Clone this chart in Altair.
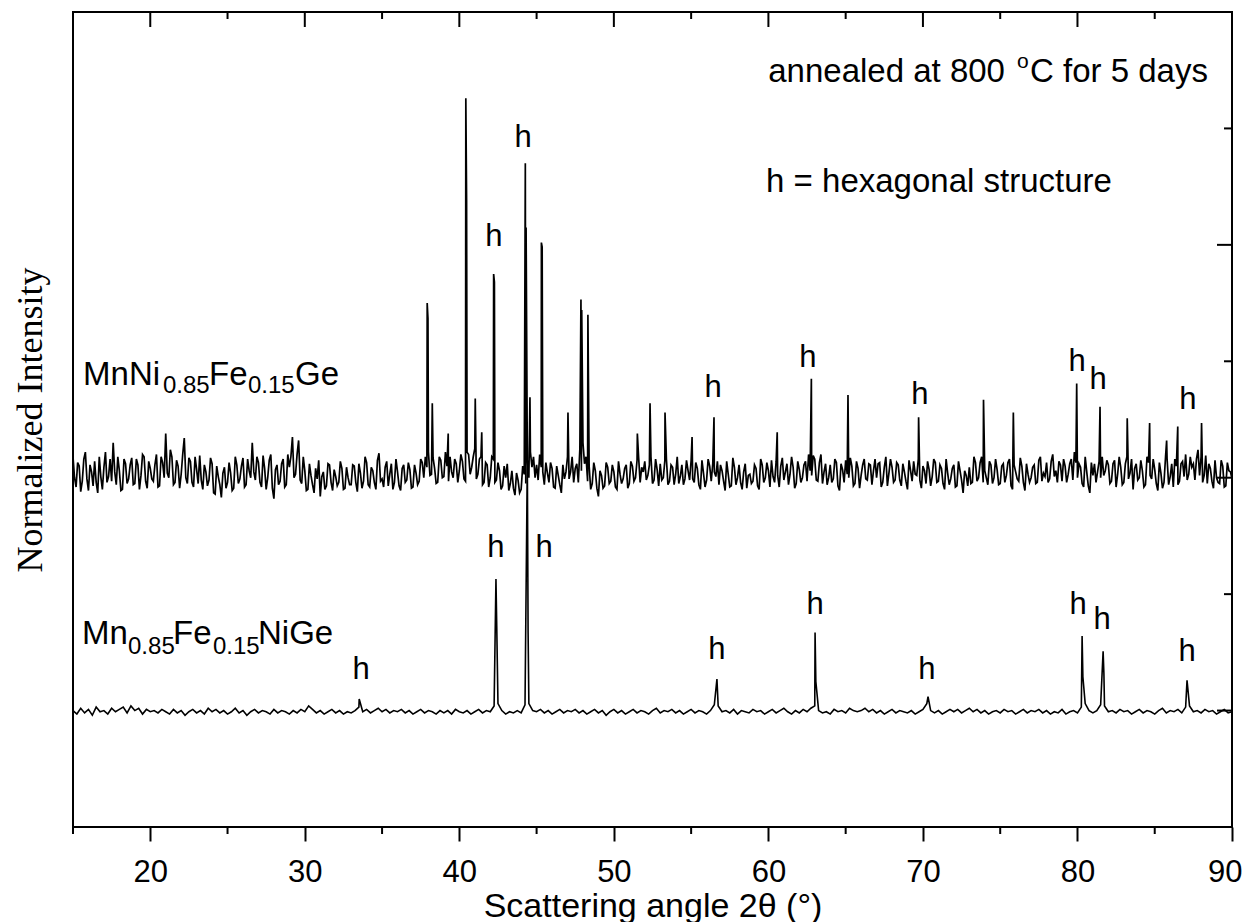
import altair as alt
import numpy as np
import pandas as pd

W, H = 1159, 815

x_domain = [15, 90]
y_domain = [0, 700]
x_major = [20, 30, 40, 50, 60, 70, 80, 90]
x_minor = [15, 25, 35, 45, 55, 65, 75, 85]
y_major = [100, 300, 500]
y_minor = [200, 400, 600]

# ---- MnNi0.85Fe0.15Ge (upper, noisy trace) : readings every 0.2 deg from 15.0 ----
top_start, top_step = 15.0, 0.2
top_noise = [
    318, 292, 310, 297, 322, 289, 305, 314, 287, 301,
    309, 296, 316, 330, 294, 306, 290, 312, 299, 317,
    295, 311, 302, 318, 291, 308, 297, 320, 293, 313,
    338, 300, 318, 296, 310, 303, 334, 295, 314, 292,
    307, 319, 290, 305, 298, 312, 286, 301, 283, 309,
    296, 304, 291, 311, 299, 317, 294, 306, 330, 298,
    313, 292, 308, 300, 320, 282, 311, 297, 316, 294,
    309, 335, 303, 332, 295, 306, 290, 302, 287, 299,
    284, 305, 293, 311, 289, 301, 296, 308, 291, 300,
    294, 310, 288, 304, 297, 313, 292, 306, 290, 321,
    299, 309, 293, 312, 296, 305, 289, 311, 298, 307,
    292, 304, 297, 313, 318, 322, 303, 308, 296, 315,
    301, 310, 318, 300, 312, 306, 314, 297, 320, 309,
    325, 303, 318, 296, 311, 300, 316, 298, 306, 293,
    300, 289, 306, 285, 298, 290, 303, 315, 322, 318,
    311, 320, 305, 313, 296, 308, 291, 302, 287, 299,
    318, 305, 296, 312, 325, 330, 318, 310, 295, 306,
    284, 302, 293, 309, 297, 305, 290, 303, 299, 311,
    295, 310, 300, 318, 309, 314, 302, 318, 298, 307,
    312, 300, 316, 297, 309, 303, 295, 311, 299, 306,
    315, 296, 308, 290, 304, 298, 310, 312, 301, 294,
    306, 289, 303, 293, 309, 300, 296, 305, 291, 303,
    297, 308, 290, 311, 300, 306, 315, 296, 302, 310,
    298, 312, 303, 309, 295, 307, 300, 314, 320, 302,
    316, 297, 320, 305, 294, 311, 299, 313, 289, 307,
    315, 300, 310, 295, 308, 302, 316, 298, 311, 306,
    300, 313, 296, 318, 304, 309, 298, 311, 293, 305,
    290, 306, 314, 302, 298, 310, 295, 307, 301, 313,
    297, 308, 290, 304, 299, 311, 293, 306, 287, 302,
    309, 296, 313, 300, 318, 306, 294, 311, 300, 307,
    295, 312, 302, 316, 290, 305, 297, 310, 289, 303,
    300, 311, 296, 318, 304, 313, 299, 320, 306, 314,
    297, 310, 303, 316, 322, 300, 309, 292, 305, 287,
    302, 296, 314, 318, 306, 311, 297, 315, 303, 309,
    296, 318, 304, 290, 312, 300, 306, 294, 313, 299,
    307, 289, 304, 296, 316, 301, 292, 310, 297, 314,
    320, 303, 309, 298, 324, 318, 302, 295, 308, 291,
    300, 295, 310, 293, 306, 299,
]
# readings in between, every 0.2 deg from 15.1
top_start2 = 15.1
top_noise2 = [
    300, 313, 288, 316, 299, 311, 293, 296, 318, 290,
    322, 301, 297, 305, 318, 289, 316, 295, 311, 294,
    316, 290, 320, 297, 314, 299, 311, 292, 318, 300,
    304, 324, 294, 315, 291, 320, 300, 317, 296, 318,
    295, 298, 311, 293, 317, 287, 310, 294, 304, 291,
    313, 289, 318, 295, 310, 292, 316, 300, 305, 318,
    296, 319, 290, 315, 291, 307, 294, 312, 292, 320,
    318, 300, 320, 298, 318, 289, 312, 294, 308, 315,
    301, 290, 312, 296, 307, 293, 314, 290, 309, 294,
    311, 296, 312, 291, 318, 294, 309, 296, 315, 297,
    292, 314, 303, 290, 316, 293, 308, 296, 313, 291,
    311, 294, 316, 300, 309, 302, 317, 295, 318, 300,
    322, 297, 305, 316, 296, 320, 299, 322, 303, 318,
    299, 316, 294, 313, 292, 318, 296, 313, 290, 310,
    312, 295, 291, 304, 287, 310, 295, 300, 309, 300,
    298, 309, 294, 304, 313, 292, 310, 294, 311, 305,
    299, 318, 308, 296, 306, 312, 297, 290, 313, 291,
    306, 291, 313, 295, 311, 292, 314, 295, 308, 291,
    314, 297, 315, 296, 305, 298, 311, 295, 316, 293,
    298, 315, 294, 311, 294, 318, 301, 294, 315, 298,
    299, 313, 294, 315, 292, 316, 297, 305, 314, 311,
    297, 314, 292, 317, 294, 311, 290, 312, 302, 295,
    311, 293, 316, 296, 313, 292, 301, 314, 292, 317,
    305, 294, 318, 291, 314, 296, 311, 297, 306, 319,
    298, 313, 295, 312, 300, 296, 316, 293, 312, 296,
    303, 317, 293, 314, 291, 311, 299, 312, 294, 316,
    312, 292, 309, 293, 316, 296, 313, 298, 312, 297,
    315, 297, 303, 316, 291, 306, 314, 293, 316, 296,
    311, 295, 316, 294, 308, 292, 314, 298, 306, 293,
    295, 318, 297, 313, 296, 300, 314, 295, 316, 294,
    310, 296, 313, 293, 311, 299, 317, 296, 312, 296,
    309, 295, 315, 297, 301, 296, 314, 301, 296, 311,
    316, 296, 312, 298, 313, 312, 295, 318, 293, 313,
    312, 305, 300, 302, 315, 295, 312, 292, 318, 294,
    312, 299, 316, 308, 298, 315, 292, 318, 302, 316,
    295, 313, 291, 318, 294, 312, 316, 294, 312, 301,
    298, 318, 312, 316, 302, 296, 319, 312, 297, 315,
    296, 315, 292, 313, 305,
]
top_peak_x = [37.92, 38.25, 39.28, 40.42, 41.03, 41.45, 42.22, 44.27, 44.57, 45.31,
              47.03, 47.87, 48.32, 51.52, 52.34, 53.31, 55.06, 56.48, 60.57, 62.78,
              65.15, 69.72, 73.92, 75.85, 79.95, 81.46, 83.22, 84.67, 85.77, 86.49, 88.03]
top_peak_y = [450, 364, 338, 626, 368, 339, 475, 570, 369, 502,
              356, 453, 440, 338, 364, 356, 335, 352, 339, 385,
              371, 352, 367, 356, 381, 361, 351, 347, 332, 344, 347]
top_sh_x = [37.97, 40.47, 42.27, 44.32, 45.36, 47.92]
top_sh_y = [437, 538, 468, 515, 498, 444]

# ---- Mn0.85Fe0.15NiGe (lower, clean trace) : readings every 0.25 deg from 15 ----
bot_start, bot_step = 15.0, 0.25
bot_noise = [
    100, 97, 102, 98, 101, 96, 103, 99, 100, 97, 102, 99,
    101, 103, 98, 104, 100, 102, 97, 101, 99, 100, 98, 101,
    99, 97, 101, 98, 100, 96, 99, 101, 98, 100, 97, 102,
    99, 101, 98, 100, 97, 99, 102, 98, 100, 96, 99, 101,
    98, 100, 99, 97, 101, 98, 100, 99, 97, 100, 98, 101,
    99, 104, 101, 98, 100, 97, 99, 101, 98, 100, 97, 99,
    98, 100, 103, 99, 101, 98, 100, 102, 99, 101, 98, 100,
    99, 101, 98, 100, 97, 99, 101, 98, 100, 99, 97, 100,
    98, 100, 97, 101, 99, 98, 100, 97, 99, 101, 98, 100,
    99, 104, 106, 100, 97, 99, 98, 100, 98, 105, 106, 100,
    99, 101, 98, 100, 97, 99, 101, 98, 100, 99, 101, 98,
    100, 97, 99, 101, 98, 100, 96, 99, 101, 98, 100, 97,
    99, 101, 98, 100, 99, 97, 100, 102, 98, 100, 99, 101,
    98, 100, 97, 99, 101, 98, 100, 99, 97, 100, 105, 104,
    99, 100, 98, 101, 97, 100, 99, 98, 101, 99, 100, 97,
    99, 101, 98, 100, 102, 99, 97, 100, 98, 101, 99, 102,
    104, 100, 98, 99, 97, 101, 99, 100, 98, 102, 100, 99,
    100, 102, 99, 101, 98, 100, 97, 99, 101, 98, 100, 99,
    98, 100, 97, 99, 101, 106, 100, 98, 100, 97, 99, 101,
    99, 101, 98, 100, 102, 99, 101, 98, 100, 97, 99, 100,
    98, 101, 99, 100, 97, 99, 101, 98, 100, 99, 101, 98,
    100, 97, 99, 98, 101, 97, 99, 100, 98, 103, 106, 100,
    98, 100, 105, 104, 99, 100, 98, 101, 99, 100, 97, 99,
    101, 98, 100, 99, 97, 100, 102, 98, 100, 99, 101, 98,
    103, 104, 99, 100, 98, 101, 99, 100, 97, 99, 101, 98,
    99,
]
bot_peak_x = [33.52, 42.37, 44.40, 56.67, 63.02, 70.33, 80.30, 81.66, 87.09]
bot_peak_y = [110, 213, 315, 127, 167, 112, 164, 151, 126]
bot_sh_x = [42.42, 44.45, 63.07, 80.35, 81.71]
bot_sh_y = [173, 167, 125, 129, 132]

# ---- "h" peak labels ----
h_x = [42.24, 44.12, 56.42, 62.56, 69.81, 79.97, 81.33, 87.15,
       33.64, 42.37, 45.48, 56.67, 63.02, 70.26, 80.04, 81.59, 87.09]
h_y = [507, 592, 377, 403, 371, 399, 384, 367,
       135, 240, 240, 152, 191, 135, 191, 178, 150]

# ---- annotation texts (left aligned pieces, with sub/superscripts) ----
note_text = ["MnNi", "0.85", "Fe", "0.15", "Ge",
             "Mn", "0.85", "Fe", "0.15", "NiGe",
             "o", "C for 5 days", "h = hexagonal structure"]
note_x = [15.65, 20.82, 23.80, 26.32, 29.37,
          15.58, 18.56, 21.47, 24.06, 26.97,
          76.09, 76.93, 59.85]
note_y = [380, 373, 380, 373, 380,
          157, 149, 157, 149, 157,
          652, 640, 545]
note_size = [33, 24, 33, 24, 33,
             33, 24, 33, 24, 33,
             21, 33, 33]
right_text = ["annealed at 800"]
right_x = [75.31]
right_y = [640]

# ---------------- build tables ----------------
top_x = np.round(top_start + top_step * np.arange(len(top_noise)), 3)
top_x2 = np.round(top_start2 + top_step * np.arange(len(top_noise2)), 3)
top_df = pd.concat([
    pd.DataFrame({"x": top_x, "y": top_noise}),
    pd.DataFrame({"x": top_x2, "y": top_noise2}),
    pd.DataFrame({"x": top_peak_x, "y": top_peak_y}),
    pd.DataFrame({"x": top_sh_x, "y": top_sh_y}),
], ignore_index=True)

bot_x = np.round(bot_start + bot_step * np.arange(len(bot_noise)), 3)
bot_df = pd.concat([
    pd.DataFrame({"x": bot_x, "y": bot_noise}),
    pd.DataFrame({"x": bot_peak_x, "y": bot_peak_y}),
    pd.DataFrame({"x": bot_sh_x, "y": bot_sh_y}),
], ignore_index=True)

h_df = pd.DataFrame({"x": h_x, "y": h_y, "t": ["h"] * len(h_x)})
note_df = pd.DataFrame({"x": note_x, "y": note_y, "t": note_text, "s": note_size})
right_df = pd.DataFrame({"x": right_x, "y": right_y, "t": right_text})

xs = alt.Scale(domain=x_domain, nice=False, zero=False)
ys = alt.Scale(domain=y_domain, nice=False, zero=False)

xaxis = alt.Axis(values=x_major, tickSize=14, tickWidth=2, tickColor="black",
                 domain=False, grid=False, labelFont="Liberation Sans",
                 labelFontSize=31, labelColor="black", labelPadding=16,
                 labelFlush=True, labelFlushOffset=10,
                 title="Scattering angle  2θ (°)", titleFont="Liberation Sans",
                 titleFontSize=34, titleFontWeight="normal", titleColor="black",
                 titlePadding=2)
yaxis = alt.Axis(labels=False, ticks=False, domain=False, grid=False,
                 title="Normalized Intensity", titleFont="Liberation Serif",
                 titleFontSize=36, titleFontWeight="normal", titleColor="black",
                 titlePadding=24)


def X():
    return alt.X("x:Q", scale=xs, axis=xaxis)


def Y():
    return alt.Y("y:Q", scale=ys, axis=yaxis)


top_line = alt.Chart(top_df).mark_line(color="black", strokeWidth=1.7, clip=True).encode(x=X(), y=Y())
bot_line = alt.Chart(bot_df).mark_line(color="black", strokeWidth=1.6, clip=True).encode(x=X(), y=Y())

major_df = pd.DataFrame({"x": x_major})
minor_df = pd.DataFrame({"x": x_minor})
top_major = alt.Chart(major_df).mark_rule(color="black", strokeWidth=2).encode(
    x=X(), y=alt.value(0), y2=alt.value(15))
top_minor = alt.Chart(minor_df).mark_rule(color="black", strokeWidth=2).encode(
    x=X(), y=alt.value(0), y2=alt.value(7))
bot_minor = alt.Chart(minor_df).mark_rule(color="black", strokeWidth=2).encode(
    x=X(), y=alt.value(H), y2=alt.value(H + 7))
r_major = alt.Chart(pd.DataFrame({"y": y_major})).mark_rule(color="black", strokeWidth=2).encode(
    y=Y(), x=alt.value(W - 15), x2=alt.value(W))
r_minor = alt.Chart(pd.DataFrame({"y": y_minor})).mark_rule(color="black", strokeWidth=2).encode(
    y=Y(), x=alt.value(W - 8), x2=alt.value(W))

h_text = alt.Chart(h_df).mark_text(font="Liberation Sans", fontSize=31, align="center",
                                   baseline="middle", color="black").encode(x=X(), y=Y(), text="t:N")
notes = alt.Chart(note_df).mark_text(font="Liberation Sans", align="left",
                                     baseline="alphabetic", color="black").encode(
    x=X(), y=Y(), text="t:N", size=alt.Size("s:Q", scale=None, legend=None))
right_notes = alt.Chart(right_df).mark_text(font="Liberation Sans", fontSize=33, align="right",
                                            baseline="alphabetic", color="black").encode(
    x=X(), y=Y(), text="t:N")

chart = alt.layer(
    top_line, bot_line, top_major, top_minor, bot_minor, r_major, r_minor,
    h_text, notes, right_notes
).properties(
    width=W, height=H,
    padding={"left": 65, "top": 4, "right": 12, "bottom": 95},
    autosize=alt.AutoSizeParams(type="none"),
    background="white",
).configure_view(stroke="black", strokeWidth=2)

chart.save("out.html", embed_options={"renderer": "svg", "actions": False})
